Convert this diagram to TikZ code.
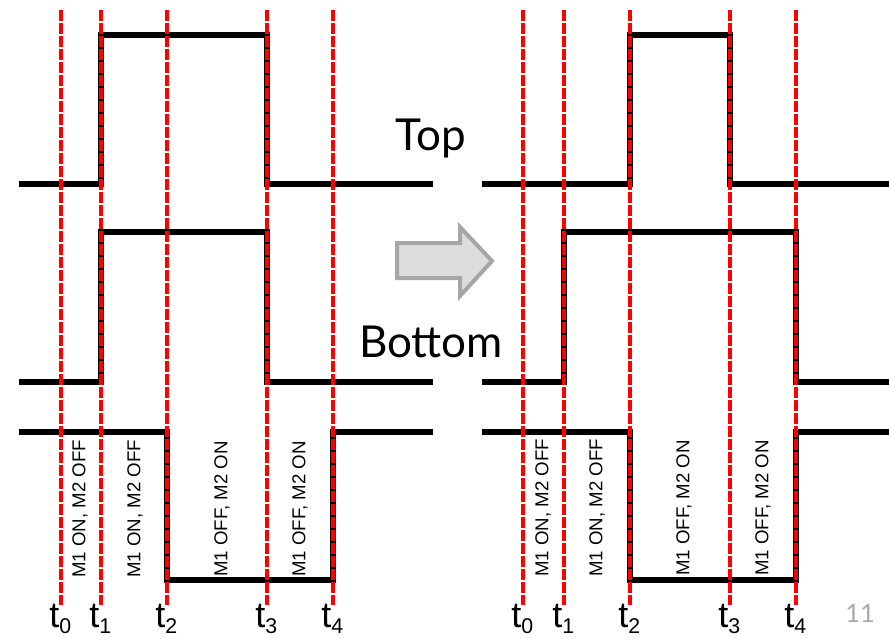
\documentclass[tikz,border=0pt]{standalone}
\usepackage{fontspec}
\setmainfont{Liberation Sans}
\newfontfamily\gillfont{Lato}
\begin{document}
\begin{tikzpicture}[x=0.75pt,y=-0.75pt,
  wave/.style={line width=4pt,black,line join=miter},
  guide/.style={line width=2.3pt,red,dash pattern=on 8.25pt off 1.5pt},
  state/.style={rotate=90,inner sep=0pt,font=\fontsize{14}{14}\selectfont},
  tlab/.style={anchor=base west,inner sep=0pt,font=\fontsize{27}{27}\selectfont},
  big/.style={inner sep=0pt,font=\gillfont\fontsize{33}{33}\selectfont}]
\useasboundingbox (0,0) rectangle (889,639);
% ---------- left panel waveforms
\coordinate (LT0) at (19,184); \coordinate (LT1) at (101,184); \coordinate (LT2) at (101,35);
\coordinate (LT3) at (267,35); \coordinate (LT4) at (267,184); \coordinate (LT5) at (433,184);
\draw[wave] (LT0) -- (LT1) -- (LT2) -- (LT3) -- (LT4) -- (LT5);
\coordinate (LM0) at (19,382); \coordinate (LM1) at (101,382); \coordinate (LM2) at (101,232);
\coordinate (LM3) at (267,232); \coordinate (LM4) at (267,382); \coordinate (LM5) at (433,382);
\draw[wave] (LM0) -- (LM1) -- (LM2) -- (LM3) -- (LM4) -- (LM5);
\coordinate (LB0) at (19,432); \coordinate (LB1) at (167,432); \coordinate (LB2) at (167,580);
\coordinate (LB3) at (333,580); \coordinate (LB4) at (333,432); \coordinate (LB5) at (433,432);
\draw[wave] (LB0) -- (LB1) -- (LB2) -- (LB3) -- (LB4) -- (LB5);
% ---------- right panel waveforms
\coordinate (RT0) at (482,184); \coordinate (RT1) at (630,184); \coordinate (RT2) at (630,35);
\coordinate (RT3) at (730,35); \coordinate (RT4) at (730,184); \coordinate (RT5) at (889,184);
\draw[wave] (RT0) -- (RT1) -- (RT2) -- (RT3) -- (RT4) -- (RT5);
\coordinate (RM0) at (482,382); \coordinate (RM1) at (564,382); \coordinate (RM2) at (564,232);
\coordinate (RM3) at (796,232); \coordinate (RM4) at (796,382); \coordinate (RM5) at (889,382);
\draw[wave] (RM0) -- (RM1) -- (RM2) -- (RM3) -- (RM4) -- (RM5);
\coordinate (RB0) at (482,432); \coordinate (RB1) at (630,432); \coordinate (RB2) at (630,580);
\coordinate (RB3) at (796,580); \coordinate (RB4) at (796,432); \coordinate (RB5) at (889,432);
\draw[wave] (RB0) -- (RB1) -- (RB2) -- (RB3) -- (RB4) -- (RB5);
% ---------- red dashed time markers
\foreach \n/\x in {l0/61,l1/101,l2/167,l3/267,l4/333,r0/523,r1/564,r2/630,r3/730,r4/796}{
  \coordinate (g\n top) at (\x,10);
  \coordinate (g\n bot) at (\x,605);
  \draw[guide] (g\n top) -- (g\n bot);
}
% ---------- time labels
\foreach \n/\x/\i in {l0/61/0,l1/101/1,l2/167/2,l3/267/3,l4/333/4,r0/523/0,r1/564/1,r2/630/2,r3/730/3,r4/796/4}{
  \node[tlab] (t\n) at (\x-12,627) {t\raisebox{-5pt}{\fontsize{16}{16}\selectfont\i}};
}
% ---------- state labels
\node[state] (sl1) at (80,509) {M1 ON, M2 OFF};
\node[state] (sl2) at (135,509) {M1 ON, M2 OFF};
\node[state] (sl3) at (222,509) {M1 OFF, M2 ON};
\node[state] (sl4) at (300,509) {M1 OFF, M2 ON};
\node[state] (sr1) at (543,508) {M1 ON, M2 OFF};
\node[state] (sr2) at (597,508) {M1 ON, M2 OFF};
\node[state] (sr3) at (684,508) {M1 OFF, M2 ON};
\node[state] (sr4) at (763,508) {M1 OFF, M2 ON};
% ---------- titles
\node[big,anchor=base] (top) at (431,150) {Top};
\node[big,anchor=base] (bottom) at (431,357) {Bottom};
% ---------- block arrow
\draw[line width=3pt,draw={rgb,255:red,166;green,166;blue,166},fill={rgb,255:red,221;green,221;blue,221},line join=miter]
  (397,243) -- (460,243) -- (460,227) -- (492,261) -- (460,296) -- (460,278) -- (397,278) -- cycle;
% ---------- page number
\node[inner sep=0pt,text={rgb,255:red,170;green,170;blue,170},font=\gillfont\fontsize{19}{19}\selectfont] (pg) at (860,613) {11};
\end{tikzpicture}
\end{document}
